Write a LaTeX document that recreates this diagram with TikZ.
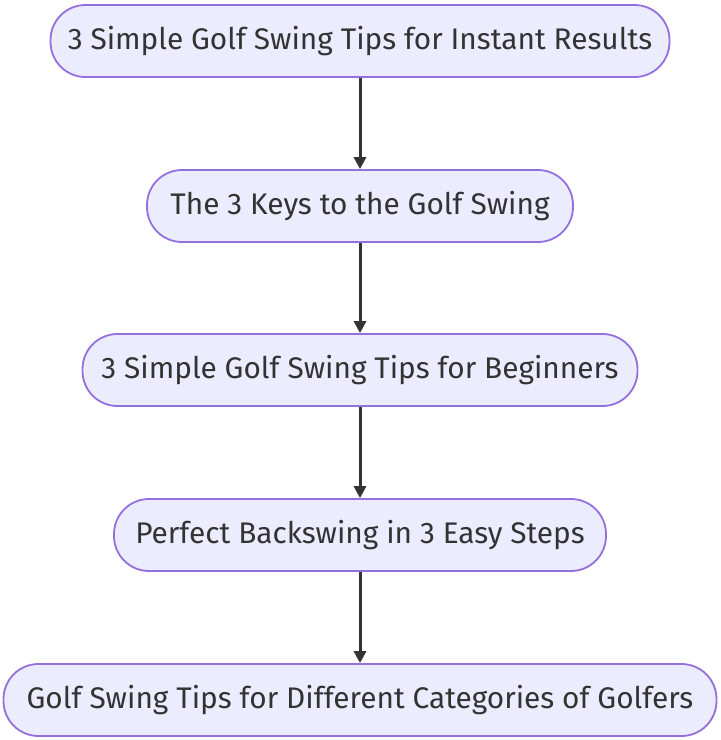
\documentclass[tikz,border=0pt]{standalone}
\usepackage{fontspec}
\setmainfont{Fira Sans}
\usepackage{tikz}
\usetikzlibrary{arrows.meta}
\usepackage{xcolor}
\definecolor{nodefill}{HTML}{ECECFF}
\definecolor{nodeline}{HTML}{9370DB}
\definecolor{edgeline}{HTML}{333333}

\begin{document}
\begin{tikzpicture}[x=1pt, y=-1pt,
    tipbox/.style={draw=nodeline, fill=nodefill, line width=1.8pt,
      rounded corners=35pt, minimum height=72pt, inner sep=0pt,
      font=\fontsize{29.8}{34}\selectfont, text=edgeline},
    flow/.style={line width=3pt, color=edgeline, -{Triangle[length=12pt, width=12pt]}}]
  \useasboundingbox (0,0) rectangle (721,740);

  % --- the five boxes, top to bottom ---
  \node[tipbox, minimum width=619pt] (results) at (360,41) {3 Simple Golf Swing Tips for Instant Results};
  \node[tipbox, minimum width=426pt] (keys) at (360,206) {The 3 Keys to the Golf Swing};
  \node[tipbox, minimum width=555pt] (beginners) at (360,370) {3 Simple Golf Swing Tips for Beginners};
  \node[tipbox, minimum width=492pt] (backswing) at (360,535) {Perfect Backswing in 3 Easy Steps};
  \node[tipbox, minimum width=713pt] (categories) at (360,700) {Golf Swing Tips for Different Categories of Golfers};

  % --- arrows between them ---
  \foreach \a/\b in {results/keys, keys/beginners, beginners/backswing, backswing/categories} {
    \draw[flow] (\a) -- (\b);
  }
\end{tikzpicture}
\end{document}
